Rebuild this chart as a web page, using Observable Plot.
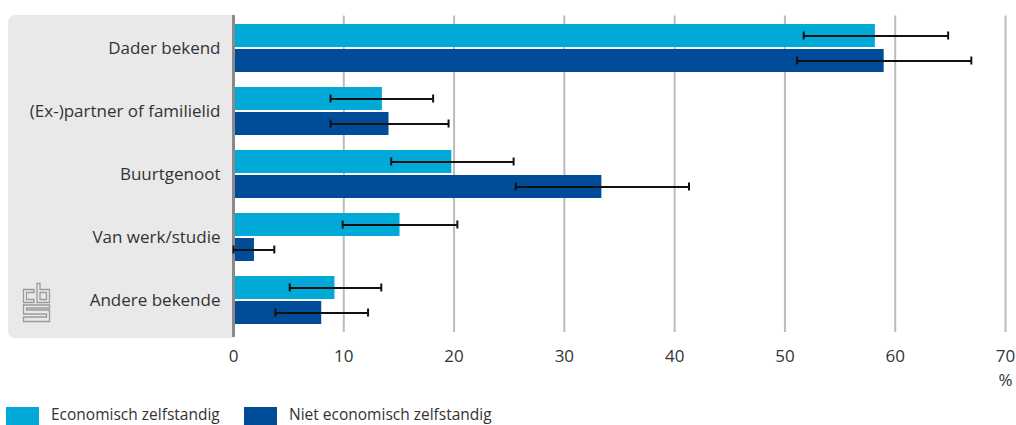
<!DOCTYPE html>
<html>
<head>
<meta charset="utf-8">
<script src="https://cdn.jsdelivr.net/npm/d3@7"></script>
<script src="https://cdn.jsdelivr.net/npm/@observablehq/plot@0.6"></script>
<style>
  body { margin: 0; background: #fff; font-family: "Open Sans", sans-serif; color: #333; }
  #wrap { position: relative; width: 1016px; height: 425px; overflow: hidden; }
  #panel { position: absolute; left: 8px; top: 15px; width: 224px; height: 323px; background: #e9e9e9; border-radius: 7px 0 0 7px; }
  #logo { position: absolute; left: 22px; top: 282px; }
  #chart { position: absolute; left: 0; top: 0; }
  #legend { position: absolute; left: 6px; top: 405px; font-size: 15.5px; line-height: 19px; color: #333; }
  .item { position: absolute; top: 0; display: flex; align-items: flex-start; white-space: nowrap; }
  .sw { width: 33px; height: 18px; margin-right: 12px; margin-top: 2px; }
</style>
</head>
<body>
<div id="wrap">
  <div id="panel"></div>
  <svg id="logo" width="30" height="42" viewBox="0 0 30 42">
    <g fill="none" stroke="#9a9a9a" stroke-width="1.3">
      <path d="M12 7.5 H1.5 V20.5 H12 V17.5 H4.5 V10.5 H12 Z"/>
      <path d="M15 1.5 H18 V7.5 H27.5 V20.5 H15 Z M18 10.5 V17.5 H24.5 V10.5 Z"/>
      <path d="M27.5 23 H1.5 V32 H24.5 V35 H1.5 V39.5 H27.5 V28 H4.5 V26 H27.5 Z"/>
    </g>
  </svg>
  <div id="chart"></div>
  <div id="legend"></div>
</div>
<script>
const categories = ["Dader bekend", "(Ex-)partner of familielid", "Buurtgenoot", "Van werk/studie", "Andere bekende"];
const series = ["Economisch zelfstandig", "Niet economisch zelfstandig"];
const colors = ["#00a9d8", "#004c99"];

const econ     = [58.2, 13.5, 19.8, 15.1, 9.2];
const econLow  = [51.7,  8.8, 14.3,  9.9, 5.1];
const econHigh = [64.8, 18.1, 25.4, 20.3, 13.4];

const niet     = [59.0, 14.1, 33.4, 1.9, 8.0];
const nietLow  = [51.1,  8.8, 25.6, 0.0, 3.8];
const nietHigh = [66.9, 19.5, 41.3, 3.7, 12.2];

const xTicks = [0, 10, 20, 30, 40, 50, 60, 70];
const unitLabel = "%";

const econRows = categories.map((c, i) => ({category: c, series: series[0], value: econ[i], low: econLow[i], high: econHigh[i]}));
const nietRows = categories.map((c, i) => ({category: c, series: series[1], value: niet[i], low: nietLow[i], high: nietHigh[i]}));

const errStyle = {stroke: "#111", strokeWidth: 2};

const chart = Plot.plot({
  width: 1016,
  height: 398,
  marginLeft: 233,
  marginRight: 11,
  marginTop: 15.5,
  marginBottom: 66,
  style: {fontFamily: "Open Sans, sans-serif", fontSize: "17px", color: "#333", background: "transparent", overflow: "visible"},
  x: {domain: [0, 70], ticks: xTicks, tickSize: 0, tickPadding: 17, label: null},
  y: {domain: categories, paddingInner: 0.242, paddingOuter: 0.121, tickSize: 0, tickPadding: 13, label: null},
  color: {domain: series, range: colors},
  marks: [
    Plot.ruleX(xTicks.filter(d => d > 0), {stroke: "#bcbcbc", strokeWidth: 2}),
    Plot.barX(econRows, {x: "value", y: "category", fill: "series", insetBottom: 25}),
    Plot.barX(nietRows, {x: "value", y: "category", fill: "series", insetTop: 25}),
    Plot.ruleX([0], {stroke: "#8a8a8a", strokeWidth: 3, insetBottom: -5, insetTop: -0.5}),
    Plot.ruleY(econRows, {x1: "low", x2: "high", y: "category", dy: -12.5, ...errStyle}),
    Plot.ruleY(nietRows, {x1: "low", x2: "high", y: "category", dy: 12.5, ...errStyle}),
    Plot.tickX(econRows, {x: "low", y: "category", insetTop: 7.5, insetBottom: 32.5, ...errStyle}),
    Plot.tickX(econRows, {x: "high", y: "category", insetTop: 7.5, insetBottom: 32.5, ...errStyle}),
    Plot.tickX(nietRows, {x: "low", y: "category", insetTop: 32.5, insetBottom: 7.5, ...errStyle}),
    Plot.tickX(nietRows, {x: "high", y: "category", insetTop: 32.5, insetBottom: 7.5, ...errStyle}),
    Plot.text([unitLabel], {frameAnchor: "bottom-right", dy: 53, textAnchor: "middle", fontSize: 17, fill: "#333"})
  ]
});
document.getElementById("chart").appendChild(chart);

const legend = document.getElementById("legend");
const lefts = [0, 238];
series.forEach((s, i) => {
  const item = document.createElement("div");
  item.className = "item";
  item.style.left = lefts[i] + "px";
  const sw = document.createElement("div");
  sw.className = "sw";
  sw.style.background = colors[i];
  const t = document.createElement("span");
  t.textContent = s;
  item.appendChild(sw);
  item.appendChild(t);
  legend.appendChild(item);
});
</script>
</body>
</html>
